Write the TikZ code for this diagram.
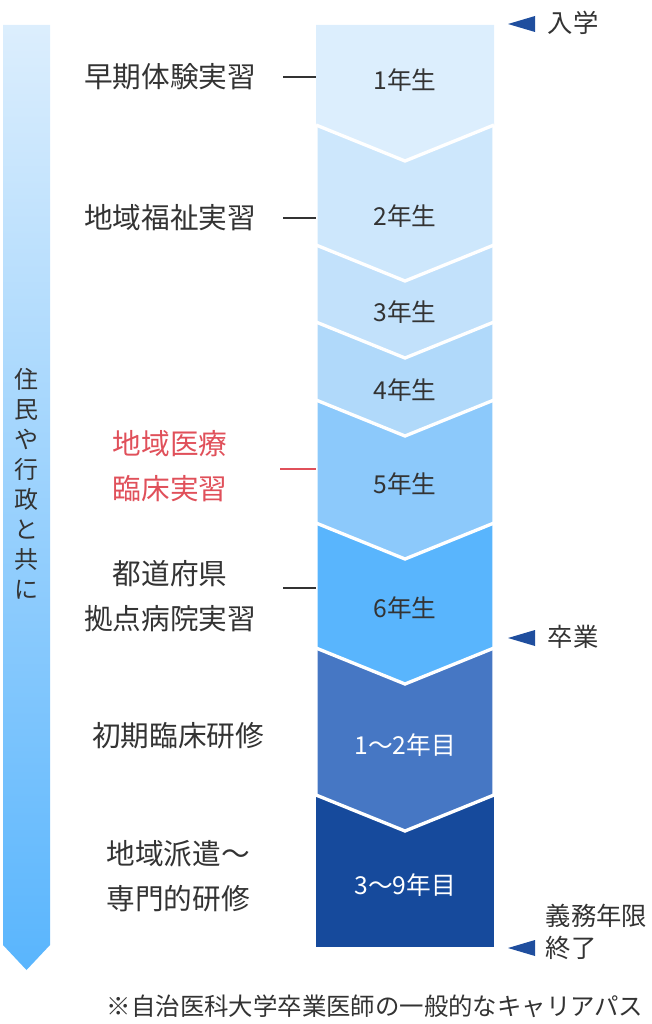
\documentclass[tikz,border=0pt]{standalone}
\usepackage{fontspec}
\setmainfont{Noto Sans CJK JP}
\begin{document}
\begin{tikzpicture}[x=0.75pt,y=-0.75pt]
\definecolor{c1}{HTML}{DCEEFD}\definecolor{c2}{HTML}{CDE7FC}\definecolor{c3}{HTML}{C2E1FB}
\definecolor{c4}{HTML}{B0D9FA}\definecolor{c5}{HTML}{8CC9FB}\definecolor{c6}{HTML}{59B5FD}
\definecolor{c7}{HTML}{4677C4}\definecolor{c8}{HTML}{164A9C}
\definecolor{tx}{HTML}{333333}\definecolor{rd}{HTML}{E0505A}\definecolor{mk}{HTML}{1F4E9E}
\tikzset{seg/.style={draw=white,line width=2.5pt,line join=miter},
 yr/.style={font=\fontsize{18.5}{22}\selectfont,text=tx},
 yrw/.style={font=\fontsize{18.5}{22}\selectfont,text=white},
 lab/.style={font=\fontsize{21.5}{34}\selectfont,text=tx,align=center},
 sm/.style={font=\fontsize{19}{24}\selectfont,text=tx},
 tick/.style={draw=tx,line width=0.8pt},
 mkfill/.style={fill=mk,draw=none}}
\useasboundingbox (0,0) rectangle (651,1024);
% left arrow
\shade[top color=c1,bottom color=c6] (3,25) -- (50,25) -- (50,945) -- (26.5,970) -- (3,945) -- cycle;
\node[font=\fontsize{18}{22.5}\selectfont,text=tx,align=center] (v) at (26.5,484) {住\\民\\や\\行\\政\\と\\共\\に};
% segments bottom to top
\fill[c8] (316,795) rectangle (494,947);
\node[yrw] (s8) at (405,885) {3〜9年目};
\def\chev#1#2#3#4{\filldraw[seg,fill=#1] (316,#2) -- (494,#2) -- (494,#3) -- (405,#3+36) -- (316,#3) -- cycle;}
\chev{c7}{648}{795}{}
\node[yrw] (s7) at (405,745) {1〜2年目};
\chev{c6}{523}{648}{}
\node[yr] (s6) at (405,608) {6年生};
\chev{c5}{400}{523}{}
\node[yr] (s5) at (405,484) {5年生};
\chev{c4}{322}{400}{}
\node[yr] (s4) at (405,390) {4年生};
\chev{c3}{245}{322}{}
\node[yr] (s3) at (405,312) {3年生};
\chev{c2}{125}{245}{}
\node[yr] (s2) at (405,216) {2年生};
\fill[c1] (316,25) -- (494,25) -- (494,125) -- (405,161) -- (316,125) -- cycle;
\node[yr] (s1) at (405,80) {1年生};
\draw[white,line width=2.5pt] (316,125) -- (405,161) -- (494,125);
% left labels
\node[lab] (l1) at (170,77) {早期体験実習};
\node[lab] (l2) at (170,218) {地域福祉実習};
\node[lab,text=rd] (l5) at (170,466) {地域医療\\臨床実習};
\node[lab] (l6) at (170,596) {都道府県\\拠点病院実習};
\node[lab] (l7) at (178,736) {初期臨床研修};
\node[lab] (l8) at (178,876) {地域派遣〜\\専門的研修};
\coordinate (e1) at (316,77);\coordinate (e2) at (316,218);\coordinate (e5) at (316,469);\coordinate (e6) at (316,588);
\draw[tick] (283,77) -- (e1);
\draw[tick] (283,218) -- (e2);
\draw[tick,draw=rd] (280,469) -- (e5);
\draw[tick] (283,588) -- (e6);
% right markers
\fill[mkfill] (508,24) -- (535,16) -- (535,32) -- cycle;
\node[sm,anchor=west] (m1) at (543,23) {入学};
\fill[mkfill] (508,638) -- (535,630) -- (535,646) -- cycle;
\node[sm,anchor=west] (m2) at (543,637) {卒業};
\fill[mkfill] (508,948) -- (535,940) -- (535,956) -- cycle;
\node[sm,anchor=west,align=left] (m3) at (541,932) {義務年限\\終了};
\node[font=\fontsize{18.3}{22}\selectfont,text=tx,anchor=east] (fn) at (648,1006) {※自治医科大学卒業医師の一般的なキャリアパス};
\end{tikzpicture}
\end{document}
